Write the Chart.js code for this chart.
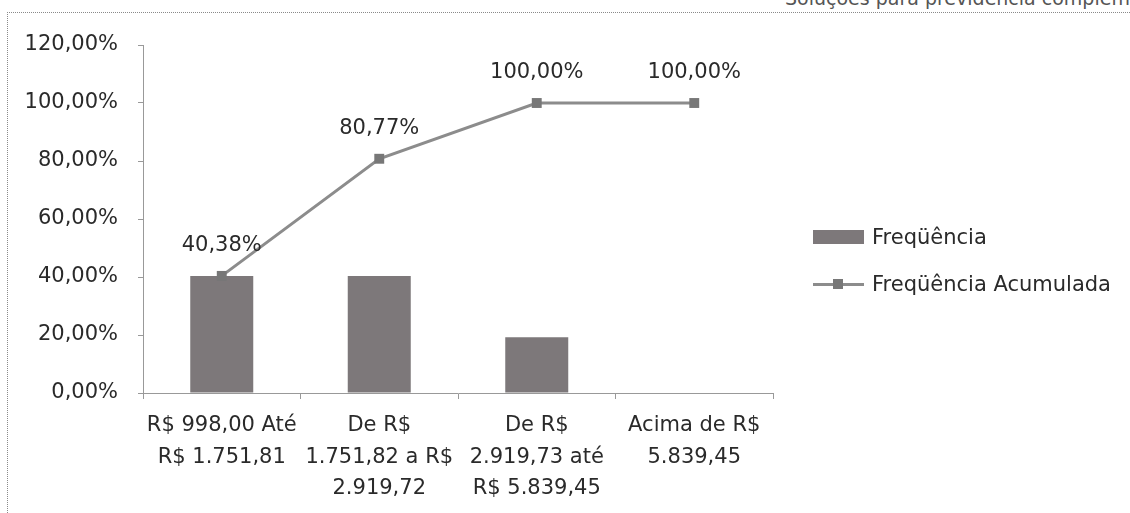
<!DOCTYPE html>
<html>
<head>
<meta charset="utf-8">
<script src="https://cdn.jsdelivr.net/npm/chart.js@4/dist/chart.umd.min.js"></script>
<style>
  html, body { margin: 0; padding: 0; background: #fff; }
  #wrap { position: relative; width: 1130px; height: 513px; overflow: hidden; font-family: 'DejaVu Sans', sans-serif; color: #2a2a2a; }
  #frame { position: absolute; left: 7px; top: 12px; width: 1200px; height: 600px; border-left: 1px dotted #8a8a8a; border-top: 1px dotted #8a8a8a; }
  #cut { position: absolute; left: 785px; top: -13px; font-size: 19px; color: #555; white-space: nowrap; }
  #chart { position: absolute; left: 0; top: 0; }
  .leg { position: absolute; left: 813px; font-size: 21px; display: flex; align-items: center; }
  .sw { width: 51px; height: 14px; background: #7d787a; margin-right: 8px; }
  .ln { position: relative; width: 51px; height: 3px; background: #8c8c8c; margin-right: 8px; }
  .ln span { position: absolute; left: 20px; top: -4px; width: 10px; height: 10px; background: #777; }
</style>
</head>
<body>
<div id="wrap">
  <div id="cut">Soluções para previdência complementar</div>
  <div id="frame"></div>
  <canvas id="chart" width="1130" height="513"></canvas>
  <div class="leg" style="top:225px"><div class="sw"></div>Freqüência</div>
  <div class="leg" style="top:272px"><div class="ln"><span></span></div>Freqüência Acumulada</div>
</div>
<script>
const categories = [
  ['R$ 998,00 Até', 'R$ 1.751,81'],
  ['De R$', '1.751,82 a R$', '2.919,72'],
  ['De R$', '2.919,73 até', 'R$ 5.839,45'],
  ['Acima de R$', '5.839,45']
];
const frequencia = [40.38, 40.38, 19.23, 0];
const acumulada = [40.38, 80.77, 100, 100];
const yTicks = [0, 20, 40, 60, 80, 100, 120];

const FONT = "'DejaVu Sans', sans-serif";

function pct(v) {
  return v.toFixed(2).replace('.', ',') + '%';
}

// value labels over the cumulative line
const lineLabels = {
  id: 'lineLabels',
  afterDatasetsDraw(chart) {
    const ctx = chart.ctx;
    const meta = chart.getDatasetMeta(0);
    ctx.save();
    ctx.font = '21px ' + FONT;
    ctx.fillStyle = '#2a2a2a';
    ctx.textAlign = 'center';
    ctx.textBaseline = 'middle';
    meta.data.forEach((pt, i) => {
      ctx.fillText(pct(acumulada[i]), pt.x, pt.y - 30);
    });
    ctx.restore();
  }
};

new Chart(document.getElementById('chart'), {
  data: {
    labels: categories,
    datasets: [
      {
        type: 'line',
        label: 'Freqüência Acumulada',
        data: acumulada,
        borderColor: '#8c8c8c',
        borderWidth: 3,
        pointStyle: 'rect',
        pointRadius: 7,
        pointBackgroundColor: '#777',
        pointBorderWidth: 0,
        order: 1
      },
      {
        type: 'bar',
        label: 'Freqüência',
        data: frequencia,
        backgroundColor: '#7d787a',
        categoryPercentage: 0.8,
        barPercentage: 0.5,
        order: 2
      }
    ]
  },
  options: {
    responsive: false,
    animation: false,
    layout: { padding: { left: 0, top: 45, right: 357, bottom: 0 } },
    plugins: { legend: { display: false }, tooltip: { enabled: false } },
    scales: {
      x: {
        offset: true,
        border: { color: '#999', width: 1 },
        grid: { display: true, drawOnChartArea: false, offset: true, tickLength: 6, color: '#999' },
        ticks: { color: '#2a2a2a', font: { family: FONT, size: 21, lineHeight: 1.5 }, padding: 11, maxRotation: 0, autoSkip: false },
        afterFit: s => { s.height = 120; }
      },
      y: {
        min: 0,
        max: 120,
        afterBuildTicks: s => { s.ticks = yTicks.map(v => ({ value: v })); },
        border: { color: '#999', width: 1 },
        grid: { drawOnChartArea: false, tickLength: 5, color: '#999' },
        ticks: { color: '#2a2a2a', font: { family: FONT, size: 21 }, padding: 20, callback: v => pct(v) },
        afterFit: s => { s.width = 143; }
      }
    }
  },
  plugins: [lineLabels]
});
</script>
</body>
</html>
